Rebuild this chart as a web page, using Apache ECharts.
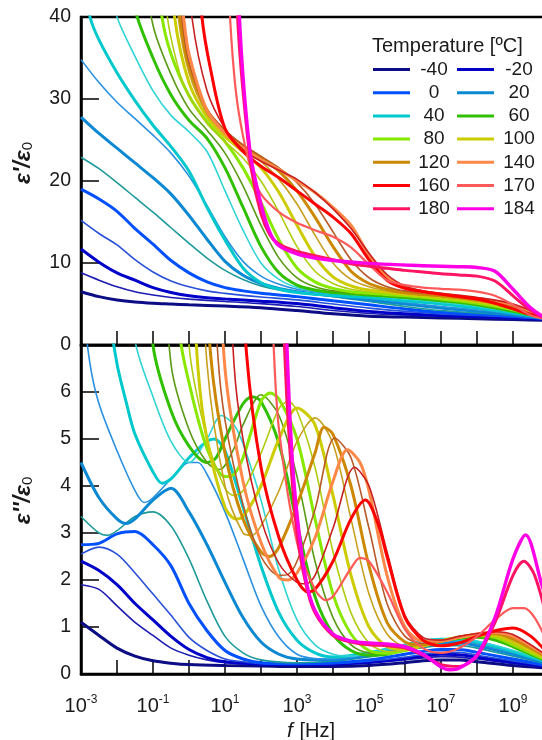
<!DOCTYPE html>
<html>
<head>
<meta charset="utf-8">
<script src="https://cdn.jsdelivr.net/npm/echarts@6/dist/echarts.min.js"></script>
<style>
html, body { margin: 0; padding: 0; background: #fff; }
#chart { width: 542px; height: 740px; }
</style>
</head>
<body>
<div id="chart"></div>
<script>
// Dielectric spectra: real part (top) and loss (bottom) vs log10 of frequency.
// Each point is [log10(f / Hz), value].

const temps = [-40, -30, -20, -10, 0, 10, 20, 30, 40, 50, 60, 70, 80, 90, 100, 110, 120, 130, 140, 150, 160, 170, 180, 184];
const legendLeft = [-40, 0, 40, 80, 120, 160, 180];
const legendRight = [-20, 20, 60, 100, 140, 170, 184];
const xTickExponents = [-3, -1, 1, 3, 5, 7, 9];

// eps' / eps0
const re_m40 = [[-3,6.5],[-2.5,5.9],[-2,5.5],[-1.5,5.25],[-1,5.1],[-0.5,5.0],[0,4.9],[1,4.75],[2,4.55],[3,4.2],[4,3.8],[5,3.5],[6,3.4],[7,3.3],[8,3.2],[9,3.1],[10,3.0]];
const re_m30 = [[-3,8.8],[-2.5,7.9],[-2,7.1],[-1.5,6.5],[-1,6.1],[-0.5,5.8],[0,5.6],[1,5.3],[2,5.05],[3,4.7],[4,4.2],[5,3.85],[6,3.65],[7,3.5],[8,3.35],[9,3.2],[10,3.05]];
const re_m20 = [[-3,11.7],[-2.5,10.1],[-2,8.8],[-1.5,7.9],[-1,7.0],[-0.5,6.4],[0,6.0],[0.5,5.75],[1,5.6],[2,5.35],[3,5.05],[4,4.55],[5,4.1],[6,3.8],[7,3.6],[8,3.45],[9,3.3],[10,3.1]];
const re_m10 = [[-3,15.2],[-2.5,13.6],[-2,12.2],[-1.5,10.4],[-1,8.9],[-0.5,7.8],[0,7.1],[0.5,6.6],[1,6.3],[1.5,6.05],[2,5.85],[3,5.5],[4,5.0],[5,4.5],[6,4.1],[7,3.8],[8,3.6],[9,3.4],[10,3.15]];
const re_0 = [[-3,19],[-2.5,17.8],[-2,16.3],[-1.5,14.2],[-1,12.3],[-0.5,10.3],[0,8.8],[0.5,7.7],[1,7.0],[1.5,6.6],[2,6.3],[2.5,6.1],[3,5.9],[4,5.4],[5,4.9],[6,4.4],[7,4.0],[8,3.75],[9,3.5],[10,3.2]];
const re_10 = [[-3,22.9],[-2.5,21.5],[-2,19.8],[-1.5,18.0],[-1,16.2],[-0.5,14.3],[0,12.4],[0.5,10.6],[1,9.1],[1.5,8.0],[2,7.2],[2.5,6.7],[3,6.4],[4,5.9],[5,5.3],[6,4.7],[7,4.2],[8,3.9],[9,3.6],[10,3.2]];
const re_20 = [[-3,27.8],[-2.5,25.8],[-2,24.0],[-1.5,22.2],[-1,20.4],[-0.5,18.4],[0,15.8],[0.5,12.9],[1,10.2],[1.5,8.5],[2,7.5],[2.5,6.9],[3,6.5],[4,6.0],[5,5.5],[6,5.0],[7,4.5],[8,4.1],[9,3.7],[10,3.2]];
const re_30 = [[-3,34.8],[-2.5,32.0],[-2,29.6],[-1.5,27.6],[-1,25.6],[-0.5,23.4],[0,20.6],[0.5,17.0],[1,13.2],[1.5,10.2],[2,8.4],[2.5,7.4],[3,6.8],[3.5,6.5],[4,6.2],[5,5.7],[6,5.2],[7,4.7],[8,4.3],[9,3.8],[10,3.2]];
const re_40 = [[-3,46],[-2.75,40],[-2.5,37.2],[-2,33.2],[-1.5,29.8],[-1,26.8],[-0.5,24.2],[0,21.2],[0.5,16.8],[1,12.8],[1.5,9.4],[2,7.6],[2.5,6.8],[3,6.4],[3.5,6.2],[4,6.05],[5,5.8],[6,5.4],[7,5.0],[8,4.5],[9,3.9],[10,3.2]];
const re_50 = [[-2.5,48],[-2,40],[-1.5,35.2],[-1,31.0],[-0.5,28.0],[0,26.0],[0.5,23.6],[1,18.8],[1.5,14.0],[2,10.0],[2.5,8.0],[3,7.0],[3.5,6.6],[4,6.35],[5,6.05],[6,5.65],[7,5.2],[8,4.7],[9,4.0],[10,3.2]];
const re_60 = [[-1.75,50],[-1.5,41],[-1,35.0],[-0.5,30.5],[0,27.4],[0.5,25.2],[1,21.6],[1.5,16.8],[2,12.0],[2.5,8.8],[3,7.3],[3.5,6.7],[4,6.4],[5,6.1],[6,5.8],[7,5.4],[8,4.9],[9,4.1],[10,3.2]];
const re_70 = [[-1.5,52],[-1,39],[-0.5,33.0],[0,28.8],[0.5,26.2],[1,23.4],[1.5,19.4],[2,14.6],[2.5,10.6],[3,8.2],[3.5,7.1],[4,6.6],[5,6.2],[6,5.9],[7,5.5],[8,5.0],[9,4.2],[10,3.2]];
const re_80 = [[-1,50],[-0.75,40],[-0.5,35.5],[0,30.4],[0.5,27.2],[1,24.8],[1.5,21.6],[2,17.4],[2.5,12.8],[3,9.4],[3.5,7.7],[4,6.9],[4.5,6.5],[5,6.3],[6,6.0],[7,5.6],[8,5.1],[9,4.3],[10,3.2]];
const re_90 = [[-1,60],[-0.6,40],[-0.25,33],[0,30.4],[0.5,27.0],[1,24.8],[1.5,22.8],[2,20.0],[2.5,16.2],[3,12.0],[3.5,9.0],[4,7.5],[4.5,6.8],[5,6.5],[6,6.1],[7,5.7],[8,5.2],[9,4.4],[10,3.2]];
const re_100 = [[-1,65],[-0.4,40],[0,32.0],[0.5,27.8],[1,25.4],[1.5,23.6],[2,21.6],[2.5,18.6],[3,14.6],[3.5,10.8],[4,8.3],[4.5,7.2],[5,6.7],[6,6.2],[7,5.8],[8,5.3],[9,4.5],[10,3.2]];
const re_110 = [[-1,68],[-0.3,40],[0,33.2],[0.5,28.2],[1,25.8],[1.5,24.0],[2,22.4],[2.5,20.2],[3,17.2],[3.5,13.4],[4,10.0],[4.5,8.0],[5,7.1],[5.5,6.6],[6,6.3],[7,5.9],[8,5.4],[9,4.6],[10,3.2]];
const re_120 = [[-1,70],[-0.25,40],[0,34.0],[0.5,28.6],[1,26.0],[1.5,24.3],[2,22.9],[2.5,21.2],[3,18.8],[3.5,15.6],[4,12.0],[4.5,9.0],[5,7.5],[5.5,6.8],[6,6.4],[7,6.0],[8,5.5],[9,4.7],[10,3.2]];
const re_130 = [[-1,72],[-0.2,40],[0,34.5],[0.5,28.8],[1,26.2],[1.5,24.4],[2,23.0],[2.5,21.6],[3,19.8],[3.5,17.2],[4,13.8],[4.5,10.4],[5,8.2],[5.5,7.1],[6,6.6],[7,6.1],[8,5.6],[9,4.8],[10,3.2]];
const re_140 = [[-1,74],[-0.15,40],[0,35.5],[0.5,28.6],[1,25.8],[1.5,24.0],[2,22.6],[2.5,21.4],[3,20.0],[3.5,18.6],[4,16.8],[4.5,14.6],[5,11.0],[5.5,8.3],[6,7.0],[6.5,6.5],[7,6.2],[8,5.7],[9,4.9],[10,3.2]];
const re_150 = [[-0.5,64],[0.08,40],[0.5,31.0],[1,26.4],[1.5,23.8],[2,22.4],[2.5,21.3],[3,20.2],[3.5,18.6],[4,16.6],[4.5,14.2],[5,11.2],[5.5,8.6],[6,7.2],[6.5,6.6],[7,6.3],[8,5.8],[9,5.0],[10,3.2]];
const re_160 = [[0,60],[0.36,40],[0.6,33.6],[1,26.4],[1.5,23.6],[2,21.8],[2.5,20.4],[3,18.8],[3.5,17.2],[4,15.6],[4.5,13.6],[5,10.4],[5.5,7.9],[6,6.9],[6.5,6.5],[7,6.2],[8,5.6],[8.5,5.1],[9,4.4],[9.5,3.7],[10,3.2]];
const re_170 = [[0.8,70],[1.14,40],[1.3,31],[1.5,25.5],[1.75,21.0],[2,18.4],[2.5,16.2],[3,14.9],[3.5,14.0],[4,13.2],[4.5,11.9],[5,9.8],[5.5,7.9],[6,7.3],[6.5,7.0],[7,6.85],[7.5,6.75],[8,6.5],[8.5,6.0],[9,4.9],[9.5,3.6],[10,3.1]];
const re_180 = [[1.0,80],[1.35,40],[1.5,31],[1.75,21],[2,16.0],[2.25,13.4],[2.5,12.3],[3,11.4],[3.5,10.9],[4,10.4],[4.5,9.9],[5,9.6],[5.5,9.35],[6,9.1],[6.5,8.9],[7,8.7],[7.5,8.55],[8,8.4],[8.5,7.8],[9,6.0],[9.5,4.2],[10,3.0]];
const re_184 = [[1.0,85],[1.4,40],[1.69,23.8],[2,17.2],[2.25,13.7],[2.5,12.1],[3,11.1],[3.5,10.6],[4,10.3],[5,9.95],[6,9.75],[7,9.6],[7.5,9.55],[8,9.45],[8.5,9.0],[9,6.8],[9.5,4.5],[10,3.0]];

// eps'' / eps0
const im_m40 = [[-3,1.1],[-2.5,0.82],[-2,0.55],[-1.5,0.38],[-1,0.28],[-0.5,0.23],[0,0.2],[1,0.18],[2,0.17],[3,0.16],[4,0.16],[5,0.18],[6,0.24],[6.5,0.28],[7,0.3],[7.5,0.3],[8,0.26],[9,0.18],[10,0.12]];
const im_m30 = [[-3,1.9],[-2.5,1.8],[-2,1.45],[-1.5,1.1],[-1,0.82],[-0.5,0.55],[0,0.4],[0.5,0.3],[1,0.24],[2,0.2],[3,0.19],[4,0.2],[5,0.23],[6,0.3],[6.5,0.34],[7,0.37],[7.5,0.36],[8,0.32],[9,0.22],[10,0.14]];
const im_m20 = [[-3,2.4],[-2.5,2.2],[-2,1.9],[-1.5,1.5],[-1,1.15],[-0.5,0.8],[0,0.52],[0.5,0.35],[1,0.26],[2,0.21],[3,0.2],[4,0.21],[5,0.25],[6,0.33],[6.5,0.38],[7,0.42],[7.5,0.41],[8,0.36],[9,0.25],[10,0.15]];
const im_m10 = [[-3,2.55],[-2.5,2.7],[-2,2.55],[-1.5,2.15],[-1,1.7],[-0.5,1.25],[0,0.78],[0.5,0.5],[1,0.32],[1.5,0.26],[2,0.22],[3,0.21],[4,0.22],[5,0.27],[6,0.36],[6.5,0.42],[7,0.46],[7.5,0.46],[8,0.4],[9,0.28],[10,0.16]];
const im_0 = [[-3,2.75],[-2.5,2.78],[-2,2.98],[-1.5,3.03],[-1,2.75],[-0.5,2.3],[0,1.5],[0.5,0.92],[1,0.5],[1.5,0.32],[2,0.24],[3,0.22],[4,0.24],[5,0.3],[6,0.42],[6.5,0.48],[7,0.52],[7.5,0.52],[8,0.46],[9,0.32],[10,0.18]];
const im_10 = [[-3,3.35],[-2.5,3.0],[-2.25,2.95],[-2,3.05],[-1.5,3.35],[-1,3.45],[-0.5,3.15],[0,2.45],[0.5,1.55],[1,0.8],[1.5,0.45],[2,0.3],[3,0.24],[4,0.27],[5,0.36],[6,0.5],[6.5,0.56],[7,0.6],[7.5,0.6],[8,0.55],[9,0.38],[10,0.2]];
const im_20 = [[-3,4.5],[-2.5,3.75],[-2,3.3],[-1.75,3.2],[-1.5,3.3],[-1,3.7],[-0.5,3.95],[0,3.45],[0.5,2.75],[1,1.95],[1.5,1.2],[2,0.68],[2.5,0.42],[3,0.32],[4,0.3],[5,0.4],[6,0.55],[6.5,0.62],[7,0.66],[7.5,0.66],[8,0.6],[9,0.42],[10,0.22]];
const im_30 = [[-3,8.2],[-2.75,6.6],[-2.5,5.75],[-2,4.75],[-1.5,3.9],[-1.25,3.65],[-1,3.75],[-0.5,4.15],[0,4.5],[0.25,4.5],[0.5,4.25],[1,3.45],[1.5,2.45],[2,1.45],[2.5,0.78],[3,0.42],[3.5,0.33],[4,0.32],[5,0.42],[6,0.58],[6.5,0.66],[7,0.7],[7.5,0.7],[8,0.64],[9,0.45],[10,0.23]];
const im_40 = [[-2.5,9.0],[-2,6.6],[-1.75,5.8],[-1.5,5.1],[-1,4.3],[-0.75,4.06],[-0.5,4.15],[0,4.6],[0.5,4.95],[0.7,5.0],[1,4.75],[1.5,3.55],[2,2.3],[2.5,1.3],[3,0.72],[3.5,0.45],[4,0.36],[5,0.45],[6,0.62],[6.5,0.7],[7,0.74],[7.5,0.74],[8,0.68],[9,0.48],[10,0.24]];
const im_50 = [[-2,11],[-1.5,7.1],[-1,5.9],[-0.5,4.95],[0,4.5],[0.5,5.0],[0.9,5.5],[1.25,5.3],[1.5,4.9],[2,3.7],[2.5,2.2],[3,1.15],[3.5,0.62],[4,0.42],[4.5,0.38],[5,0.44],[6,0.62],[6.5,0.7],[7,0.74],[7.5,0.75],[8,0.7],[9,0.5],[10,0.25]];
const im_60 = [[-1.5,12],[-1,7.0],[-0.5,5.6],[0,4.85],[0.5,4.5],[0.75,4.6],[1,5.0],[1.5,5.75],[1.75,5.9],[2,5.8],[2.5,4.9],[3,3.2],[3.5,1.65],[4,0.85],[4.5,0.5],[5,0.4],[5.5,0.42],[6,0.52],[6.5,0.62],[7,0.7],[7.5,0.76],[8,0.78],[8.5,0.72],[9,0.58],[10,0.25]];
const im_70 = [[-1,12],[-0.5,6.6],[0,5.2],[0.5,4.5],[0.85,4.35],[1.25,4.8],[1.5,5.3],[2,5.94],[2.5,5.5],[3,4.2],[3.5,2.4],[4,1.2],[4.5,0.62],[5,0.45],[5.5,0.44],[6,0.52],[6.5,0.62],[7,0.72],[7.5,0.78],[8,0.8],[8.5,0.75],[9,0.6],[10,0.26]];
const im_80 = [[-0.5,11],[-0.25,7.2],[0,6.2],[0.5,4.8],[1,4.2],[1.25,4.25],[1.5,4.6],[2,5.8],[2.25,5.98],[2.5,5.85],[3,5.0],[3.5,3.3],[4,1.7],[4.5,0.85],[5,0.5],[5.5,0.44],[6,0.5],[6.5,0.6],[7,0.7],[7.5,0.78],[8,0.82],[8.5,0.78],[9,0.62],[10,0.27]];
const im_90 = [[-0.25,12],[0,7.0],[0.5,5.0],[1,3.95],[1.25,3.8],[1.5,3.9],[2,4.7],[2.5,5.65],[2.75,5.8],[3,5.6],[3.5,4.4],[4,2.6],[4.5,1.3],[5,0.66],[5.5,0.48],[6,0.5],[6.5,0.6],[7,0.7],[7.5,0.78],[8,0.82],[8.5,0.8],[9,0.64],[10,0.28]];
const im_100 = [[0,10],[0.25,6.5],[0.5,5.0],[1,3.55],[1.3,3.3],[1.5,3.35],[2,4.0],[2.5,5.0],[3,5.66],[3.5,5.3],[4,3.8],[4.5,2.1],[5,1.0],[5.5,0.58],[6,0.52],[6.5,0.6],[7,0.7],[7.5,0.78],[8,0.83],[8.5,0.82],[9,0.68],[10,0.3]];
const im_110 = [[0.25,11],[0.5,6.6],[1,4.0],[1.5,3.0],[1.75,2.95],[2,3.15],[2.5,3.9],[3,4.95],[3.5,5.45],[4,4.9],[4.5,3.3],[5,1.7],[5.5,0.85],[6,0.6],[6.5,0.62],[7,0.7],[7.5,0.78],[8,0.84],[8.5,0.84],[9,0.72],[10,0.32]];
const im_120 = [[0.4,10],[0.6,6.8],[1,4.7],[1.5,3.3],[2,2.6],[2.25,2.5],[2.5,2.7],[3,3.6],[3.5,4.7],[3.75,5.25],[4,5.1],[4.5,4.0],[5,2.3],[5.5,1.1],[6,0.68],[6.5,0.62],[7,0.7],[7.5,0.78],[8,0.84],[8.5,0.86],[9,0.75],[10,0.33]];
const im_130 = [[0.6,10],[0.8,6.8],[1,5.4],[1.5,3.6],[2,2.5],[2.5,2.1],[2.75,2.12],[3,2.4],[3.5,3.5],[4.05,5.02],[4.5,4.6],[5,3.1],[5.5,1.5],[6,0.8],[6.5,0.65],[7,0.7],[7.5,0.78],[8,0.84],[8.5,0.87],[9,0.78],[10,0.34]];
const im_140 = [[0.8,10],[1,6.5],[1.5,4.1],[2,2.8],[2.5,2.05],[2.75,2.0],[3,2.15],[3.5,2.9],[4,4.1],[4.4,4.77],[4.75,4.5],[5,3.9],[5.5,2.1],[6,1.0],[6.5,0.7],[7,0.7],[7.5,0.78],[8,0.85],[8.5,0.88],[9,0.8],[10,0.35]];
const im_150 = [[1,11],[1.25,6.6],[1.5,5.0],[2,3.3],[2.5,2.35],[3,1.95],[3.25,1.92],[3.5,2.1],[4,3.1],[4.6,4.4],[5,4.0],[5.5,2.6],[6,1.25],[6.5,0.78],[7,0.72],[7.5,0.8],[8,0.86],[8.5,0.9],[9,0.84],[10,0.36]];
const im_160 = [[1.4,10],[1.6,6.8],[2,4.4],[2.5,2.9],[3,2.0],[3.3,1.75],[3.5,1.8],[4,2.4],[4.5,3.3],[4.9,3.7],[5.25,3.2],[5.5,2.5],[6,1.2],[6.5,0.72],[7,0.6],[7.5,0.66],[8,0.8],[8.5,0.92],[9,0.98],[9.5,0.8],[10,0.4]];
const im_170 = [[2.2,10],[2.35,7.0],[2.5,5.2],[3,2.8],[3.5,1.8],[3.8,1.57],[4,1.65],[4.5,2.25],[4.75,2.47],[5,2.4],[5.5,1.75],[6,0.95],[6.5,0.55],[7,0.45],[7.5,0.55],[8,0.8],[8.5,1.15],[9,1.4],[9.3,1.4],[9.6,1.2],[10,0.6]];
const im_180 = [[2.55,10],[2.65,7.0],[2.8,4.8],[3,3.0],[3.25,1.9],[3.5,1.3],[4,0.82],[4.5,0.68],[5,0.62],[5.5,0.6],[6,0.55],[6.5,0.4],[7,0.2],[7.5,0.16],[8,0.38],[8.5,1.1],[9,2.1],[9.3,2.4],[9.6,2.1],[10,1.0]];
const im_184 = [[2.6,10],[2.72,7.0],[2.85,4.8],[3,3.4],[3.25,2.0],[3.5,1.35],[4,0.85],[4.5,0.7],[5,0.66],[5.5,0.64],[6,0.58],[6.5,0.42],[7,0.15],[7.25,0.09],[7.5,0.12],[8,0.4],[8.5,1.2],[9,2.45],[9.35,2.96],[9.8,1.9],[10,1.4]];

const reCurves = [re_m40, re_m30, re_m20, re_m10, re_0, re_10, re_20, re_30, re_40, re_50, re_60, re_70, re_80, re_90, re_100, re_110, re_120, re_130, re_140, re_150, re_160, re_170, re_180, re_184];
const imCurves = [im_m40, im_m30, im_m20, im_m10, im_0, im_10, im_20, im_30, im_40, im_50, im_60, im_70, im_80, im_90, im_100, im_110, im_120, im_130, im_140, im_150, im_160, im_170, im_180, im_184];

// line styling per temperature
const lineColors = ['#0c0c84', '#1c1cb0', '#0000c8', '#2850d8', '#0050ff', '#1f9a9a', '#0a88d2', '#2a90e0',
  '#00c8cc', '#30d4d4', '#30c000', '#5a9a14', '#88e800', '#b0cc10', '#cccc00', '#c8a020',
  '#cc8800', '#b85a28', '#ff8848', '#c82020', '#ff0000', '#ff5a5a', '#ff1464', '#ff00e6'];
const lineWidths = [3, 1.6, 3, 1.6, 3, 1.6, 3, 1.6, 3, 1.6, 3, 1.6, 3, 1.6, 3, 1.6, 3, 1.6, 3, 1.6, 3, 2.2, 3, 3.4];

const FONT = 'Liberation Sans, Arial, sans-serif';
const INK = '#1a1a1a';

const series = [];
temps.forEach((t, i) => {
  [reCurves[i], imCurves[i]].forEach((d, k) => {
    series.push({
      type: 'line',
      name: String(t),
      xAxisIndex: k,
      yAxisIndex: k,
      data: d,
      showSymbol: false,
      symbol: 'none',
      smooth: 0.3,
      clip: true,
      silent: true,
      animation: false,
      itemStyle: { color: lineColors[i] },
      lineStyle: { color: lineColors[i], width: lineWidths[i] },
      emphasis: { disabled: true }
    });
  });
});

const axisLineStyle = { show: true, onZero: false, lineStyle: { color: '#000', width: 2.5 } };
const tickStyle = { color: '#000', width: 1.5 };

function xLabel(v) {
  return xTickExponents.indexOf(v) >= 0 ? '{b|10}{s|' + v + '}' : '';
}
const xLabelRich = {
  b: { fontSize: 20, fontFamily: FONT, color: INK },
  s: { fontSize: 12, fontFamily: FONT, color: INK, verticalAlign: 'bottom', padding: [0, 0, 12, 0] }
};
const nameRich = {
  e: { fontSize: 23, fontWeight: 'bold', fontStyle: 'italic', fontFamily: FONT, color: INK },
  s: { fontSize: 15, fontFamily: FONT, color: INK, verticalAlign: 'bottom' }
};

function legendCol(names, left, w) {
  return {
    data: names.map(String),
    orient: 'vertical',
    left: left,
    top: 60,
    padding: 0,
    itemWidth: 37,
    itemHeight: 3,
    itemGap: 4.2,
    icon: 'rect',
    selectedMode: false,
    formatter: n => '{n|' + n + '}',
    textStyle: {
      rich: { n: { width: w, align: 'center', fontSize: 19, fontFamily: FONT, color: INK } }
    }
  };
}

const option = {
  animation: false,
  backgroundColor: '#fff',
  title: {
    text: 'Temperature [ºC]',
    left: 372,
    top: 36,
    padding: 0,
    textStyle: { fontSize: 20, fontWeight: 'normal', fontFamily: FONT, color: INK }
  },
  legend: [legendCol(legendLeft, 373, 38), legendCol(legendRight, 457, 40)],
  grid: [
    { left: 81, top: 17, width: 468, height: 328, show: true, borderColor: '#000', borderWidth: 2.5, outerBoundsMode: 'none', containLabel: false },
    { left: 81, top: 345, width: 468, height: 329, show: true, borderColor: '#000', borderWidth: 2.5, outerBoundsMode: 'none', containLabel: false }
  ],
  xAxis: [
    {
      type: 'value', gridIndex: 0, min: -3, max: 10, interval: 1,
      axisLine: axisLineStyle,
      axisTick: { show: true, inside: true, length: 14, lineStyle: tickStyle },
      axisLabel: { show: false },
      splitLine: { show: false }
    },
    {
      type: 'value', gridIndex: 1, min: -3, max: 10, interval: 1,
      axisLine: axisLineStyle,
      axisTick: { show: true, inside: true, length: 14, lineStyle: tickStyle },
      axisLabel: { show: true, margin: 20, formatter: xLabel, rich: xLabelRich, hideOverlap: false },
      splitLine: { show: false },
      name: '{i|f}  {r|[Hz]}',
      nameLocation: 'middle',
      nameGap: 47,
      nameTextStyle: {
        padding: [0, 8, 0, 0],
        rich: {
          i: { fontSize: 21, fontStyle: 'italic', fontFamily: FONT, color: INK },
          r: { fontSize: 20, fontFamily: FONT, color: INK }
        }
      }
    }
  ],
  yAxis: [
    {
      type: 'value', gridIndex: 0, min: 0, max: 40, interval: 10,
      axisLine: axisLineStyle,
      axisTick: { show: true, inside: true, length: 18, lineStyle: tickStyle },
      axisLabel: { fontSize: 19.5, fontFamily: FONT, color: INK, margin: 10, showMinLabel: true, showMaxLabel: true },
      splitLine: { show: false },
      name: "{e|ε'/ε}{s|0}",
      nameLocation: 'middle',
      nameRotate: 90,
      nameGap: 46,
      nameTextStyle: { rich: nameRich, padding: [0, 0, 0, 36] }
    },
    {
      type: 'value', gridIndex: 1, min: 0, max: 7, interval: 1,
      axisLine: axisLineStyle,
      axisTick: { show: true, inside: true, length: 18, lineStyle: tickStyle },
      axisLabel: { fontSize: 19.5, fontFamily: FONT, color: INK, margin: 10, showMinLabel: true, showMaxLabel: false },
      splitLine: { show: false },
      name: "{e|ε''/ε}{s|0}",
      nameLocation: 'middle',
      nameRotate: 90,
      nameGap: 46,
      nameTextStyle: { rich: nameRich, padding: [0, 0, 0, 18] }
    }
  ],
  series: series
};

const chart = echarts.init(document.getElementById('chart'), null, { renderer: 'canvas' });
chart.setOption(option);
</script>
</body>
</html>
